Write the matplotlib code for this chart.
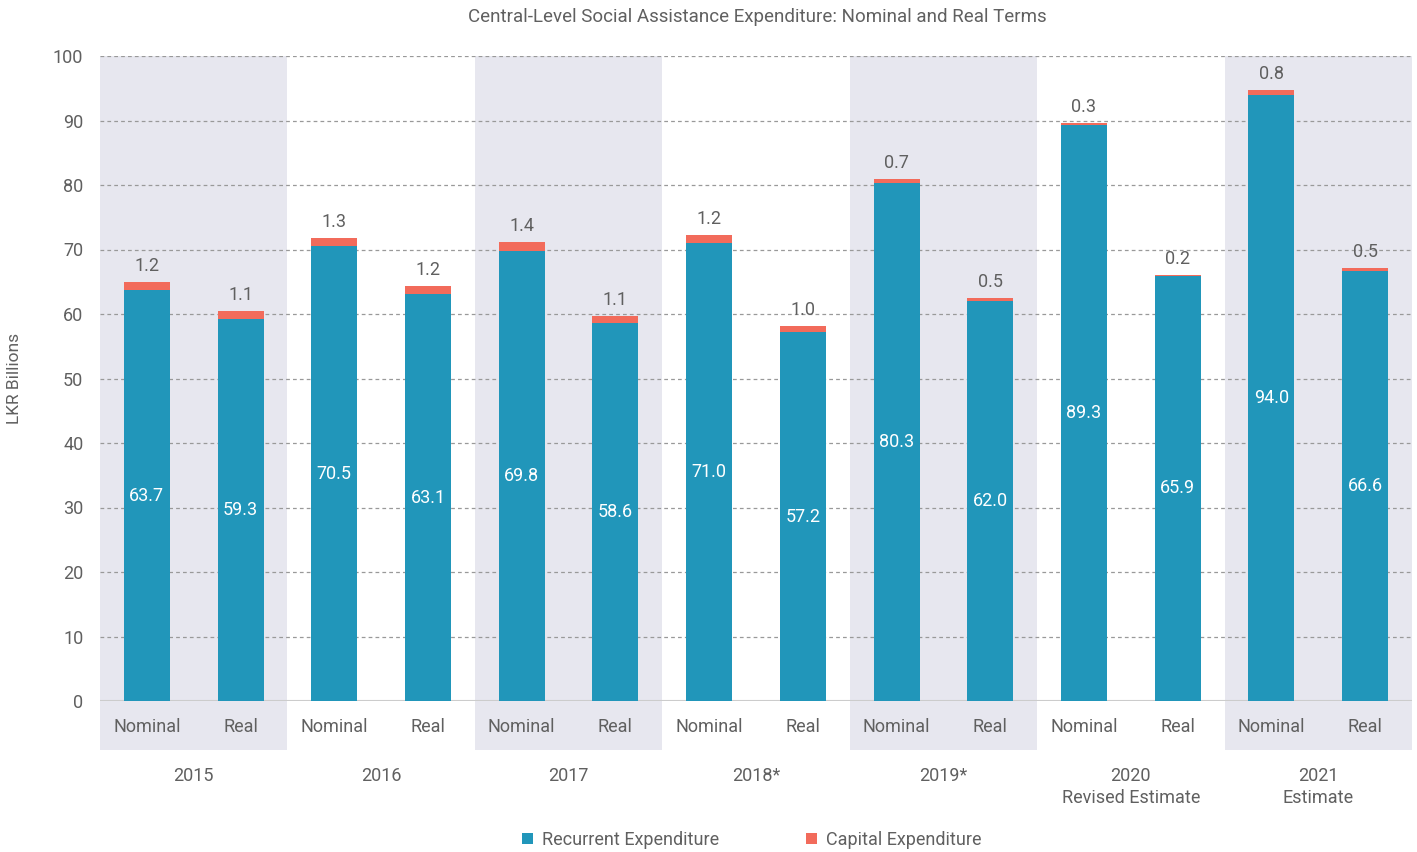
import matplotlib.pyplot as plt
import matplotlib.transforms as mtransforms
from matplotlib.patches import Rectangle, Patch

plt.rcParams['font.family'] = ['Roboto', 'DejaVu Sans']

years = ["2015", "2016", "2017", "2018*", "2019*", "2020\nRevised Estimate", "2021\nEstimate"]
kinds = ["Nominal", "Real"]

nominal_recurrent = [63.7, 70.5, 69.8, 71.0, 80.3, 89.3, 94.0]
nominal_capital = [1.2, 1.3, 1.4, 1.2, 0.7, 0.3, 0.8]
real_recurrent = [59.3, 63.1, 58.6, 57.2, 62.0, 65.9, 66.6]
real_capital = [1.1, 1.2, 1.1, 1.0, 0.5, 0.2, 0.5]

blue = "#2196BA"
coral = "#F26B5B"
band = "#E7E7EF"
text_color = "#606060"

# interleave nominal / real bars
recurrent = []
capital = []
labels = []
for i in range(len(years)):
    recurrent += [nominal_recurrent[i], real_recurrent[i]]
    capital += [nominal_capital[i], real_capital[i]]
    labels += kinds
x = list(range(len(recurrent)))

fig = plt.figure(figsize=(14.17, 8.52), dpi=100)
ax = fig.add_axes([100 / 1417, 1 - 701 / 852, 1312 / 1417, 645 / 852])

# shaded bands for alternate years, extending over the category labels
trans = mtransforms.blended_transform_factory(ax.transData, ax.transAxes)
for i in range(0, len(years), 2):
    ax.add_patch(Rectangle((2 * i - 0.5, -0.076), 2, 1.076, transform=trans,
                           facecolor=band, edgecolor="none", clip_on=False, zorder=0))

ax.bar(x, recurrent, width=0.49, color=blue, zorder=3)
ax.bar(x, capital, width=0.49, bottom=recurrent, color=coral, zorder=3)

for xi, r, c in zip(x, recurrent, capital):
    ax.text(xi, r / 2, f"{r:.1f}", ha="center", va="center", color="white", fontsize=13, zorder=4)
    ax.annotate(f"{c:.1f}", (xi, r + c), xytext=(0, 5), textcoords="offset points",
                ha="center", va="bottom", color=text_color, fontsize=13, zorder=4)

for xi, lab in zip(x, labels):
    ax.text(xi, -0.040, lab, transform=trans, ha="center", va="center", color=text_color, fontsize=13)

for i, yr in enumerate(years):
    ax.text(2 * i + 0.5, -0.103, yr, transform=trans, ha="center", va="top", color=text_color,
            fontsize=13, linespacing=1.25)

ax.set_xlim(-0.5, 13.5)
ax.set_ylim(0, 100)
ax.set_yticks(range(0, 101, 10))
ax.set_xticks([])
ax.tick_params(axis="y", length=0, pad=12, labelsize=13, labelcolor=text_color)
for s in ax.spines.values():
    s.set_visible(False)
ax.set_facecolor("none")
ax.yaxis.grid(True, linestyle=(0, (3, 2.5)), color="#999999", linewidth=0.9, zorder=1)
ax.set_axisbelow(True)
ax.axhline(0, color="#CCCCCC", linewidth=1.5, zorder=2)

fig.text(757 / 1417, 1 - 17 / 852, "Central-Level Social Assistance Expenditure: Nominal and Real Terms",
         ha="center", va="center", color=text_color, fontsize=13.5)
fig.text(15 / 1417, 1 - 378 / 852, "LKR Billions", rotation=90, ha="center", va="center",
         color=text_color, fontsize=12.5)

handles = [Patch(facecolor=blue, label="Recurrent Expenditure"),
           Patch(facecolor=coral, label="Capital Expenditure")]
leg = fig.legend(handles=handles, loc="center", bbox_to_anchor=(752 / 1417, 1 - 840 / 852), ncol=2,
                 frameon=False, fontsize=13, handlelength=0.6, handleheight=0.6, handletextpad=0.5,
                 columnspacing=4.8)
for t in leg.get_texts():
    t.set_color(text_color)

fig.savefig("out.png", dpi=100)
